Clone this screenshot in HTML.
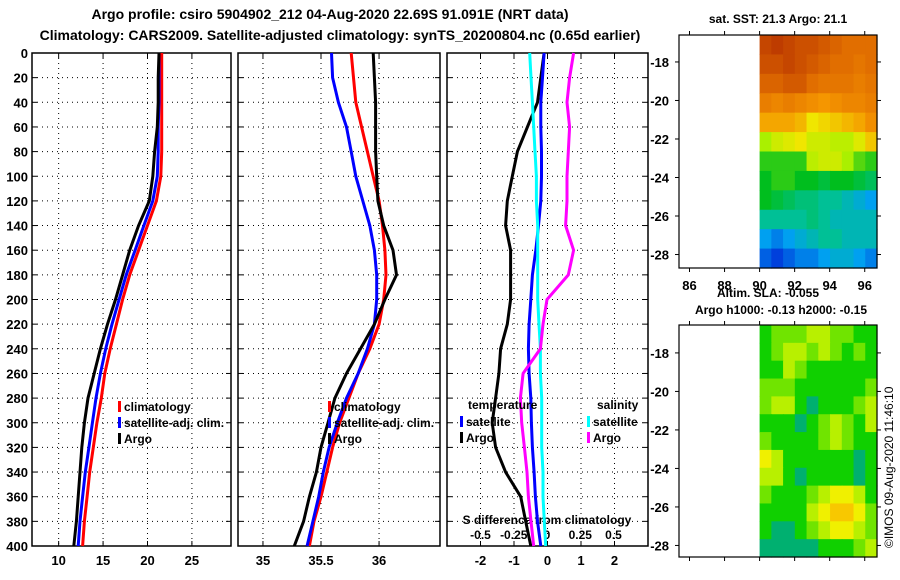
<!DOCTYPE html>
<html><head><meta charset="utf-8"><style>
body{margin:0;background:#fff;}
svg{display:block;font-family:"Liberation Sans",sans-serif;font-weight:bold;}
</style></head><body>
<svg id="c" width="900" height="580">
<text x="330" y="19" text-anchor="middle" font-size="14">Argo profile: csiro 5904902_212 04-Aug-2020 22.69S 91.091E (NRT data)</text>
<text x="340" y="40" text-anchor="middle" font-size="14">Climatology: CARS2009. Satellite-adjusted climatology: synTS_20200804.nc (0.65d earlier)</text>
<text x="778" y="23" text-anchor="middle" font-size="12">sat. SST: 21.3 Argo: 21.1</text>
<text x="768" y="297" text-anchor="middle" font-size="12">Altim. SLA: -0.055</text>
<text x="781" y="314" text-anchor="middle" font-size="12">Argo h1000: -0.13 h2000: -0.15</text>
<text transform="translate(893,548) rotate(-90)" font-size="12" font-weight="normal">©IMOS 09-Aug-2020 11:46:10</text>
</svg>
<script>
const depths=[0,20,40,60,80,100,120,140,160,180,200,220,240,260,280,300,320,340,360,380,400];
const tClim=[21.6,21.6,21.6,21.6,21.6,21.5,21.0,20.0,19.0,18.0,17.2,16.5,15.8,15.2,14.8,14.3,13.9,13.5,13.2,12.9,12.7];
const tSat=[21.3,21.3,21.3,21.2,21.2,21.1,20.6,19.6,18.6,17.6,16.8,16.0,15.3,14.7,14.2,13.8,13.4,13.0,12.7,12.4,12.2];
const tArgo=[21.3,21.2,21.2,21.1,20.8,20.6,20.2,19.0,18.0,17.2,16.4,15.5,14.7,14.0,13.3,12.9,12.6,12.4,12.2,12.0,11.7];
const sClim=[35.76,35.78,35.8,35.85,35.9,35.95,36.0,36.03,36.05,36.06,36.04,36.0,35.92,35.82,35.74,35.66,35.6,35.55,35.5,35.44,35.4];
const sSat=[35.59,35.6,35.65,35.72,35.76,35.8,35.86,35.92,35.96,35.98,35.98,35.96,35.9,35.82,35.72,35.64,35.57,35.52,35.48,35.43,35.38];
const sArgo=[35.95,35.96,35.97,35.97,35.97,35.98,35.99,36.04,36.12,36.15,36.05,35.96,35.84,35.72,35.62,35.56,35.5,35.46,35.4,35.35,35.27];
const dTArgo=[-0.1,-0.2,-0.3,-0.6,-0.9,-1.05,-1.2,-1.25,-1.1,-1.1,-1.1,-1.2,-1.4,-1.45,-1.55,-1.65,-1.55,-1.25,-0.8,-0.65,-0.5];
const dTSat=[-0.1,-0.15,-0.2,-0.2,-0.18,-0.18,-0.2,-0.27,-0.35,-0.45,-0.5,-0.55,-0.57,-0.55,-0.5,-0.48,-0.45,-0.4,-0.36,-0.3,-0.2];
const dSSat=[-0.13,-0.12,-0.11,-0.1,-0.09,-0.08,-0.08,-0.07,-0.07,-0.07,-0.07,-0.06,-0.05,-0.05,-0.04,-0.04,-0.04,-0.03,-0.03,-0.02,-0.01];
const dSArgo=[0.2,0.17,0.15,0.17,0.16,0.15,0.15,0.14,0.2,0.16,0.0,-0.03,-0.05,-0.18,-0.2,-0.19,-0.17,-0.15,-0.14,-0.12,-0.1];
const tTicks=[10,15,20,25];
const sTicks=[35,35.5,36];
const dTTicks=[-2,-1,0,1,2];
const dSTicks=[-0.5,-0.25,0,0.25,0.5];
const dSTickLabels=['-0.5','-0.25','0','0.25','0.5'];
const depthTicks=[0,20,40,60,80,100,120,140,160,180,200,220,240,260,280,300,320,340,360,380,400];
const lonTicks=[86,88,90,92,94,96];
const latTicks=[-18,-20,-22,-24,-26,-28];
const sst=[
[22.4,22.5,22.4,22.3,22.3,22.2,22.1,22.0,22.0,22.0],
[22.3,22.3,22.4,22.3,22.2,22.1,22.0,22.0,21.9,22.0],
[22.1,22.1,22.2,22.2,22.0,21.9,21.9,21.9,21.8,21.9],
[21.8,21.7,21.8,21.7,21.6,21.5,21.6,21.7,21.7,21.8],
[21.4,21.4,21.4,21.3,21.0,21.1,21.2,21.3,21.4,21.6],
[20.6,20.8,20.9,21.0,20.8,20.8,20.7,20.7,20.9,21.2],
[20.3,20.3,20.3,20.3,20.7,20.8,20.8,20.6,20.4,20.3],
[20.2,20.3,20.3,20.2,20.2,20.1,20.2,20.2,20.1,20.0],
[20.2,20.1,20.0,19.9,19.9,19.8,19.8,19.7,19.6,19.5],
[19.8,19.8,19.8,19.8,19.9,19.8,19.7,19.7,19.7,19.7],
[19.5,19.4,19.5,19.6,19.7,19.8,19.8,19.7,19.7,19.7],
[19.3,19.2,19.3,19.4,19.4,19.5,19.6,19.6,19.5,19.4]];
const sla=[
[1,2,2,2,3,3,2,2,1,1],[1,2,3,3,2,3,2,1,2,1],[1,1,3,2,1,1,1,1,1,1],[2,2,2,1,1,1,1,1,1,2],
[2,3,3,1,0,1,1,1,2,3],[1,1,1,0,1,2,3,2,1,3],[2,1,1,1,1,2,3,2,1,1],[4,3,1,1,1,1,1,1,0,1],
[3,3,1,0,1,1,1,1,0,1],[2,1,1,1,2,3,4,4,3,1],[1,1,1,1,3,4,5,5,4,2],[1,0,0,1,2,3,4,4,3,2],[0,0,0,0,0,1,1,1,2,3]];

const NS='http://www.w3.org/2000/svg';
const svg=document.getElementById('c');
function mk(tag,attrs,parent){const e=document.createElementNS(NS,tag);for(const k in attrs)e.setAttribute(k,attrs[k]);(parent||svg).appendChild(e);return e;}
function txt(x,y,s,size,anchor){const e=mk('text',{x:x,y:y,'font-size':size||13,'text-anchor':anchor||'middle'});e.textContent=s;return e;}
const Y0=53,Y1=546;
const yD=d=>Y0+(d/400)*(Y1-Y0);

function panel(name,x0,x1,vmin,vmax,xt,xtl,gridTicks,showDepthLabels){
  const xs=v=>x0+(v-vmin)/(vmax-vmin)*(x1-x0);
  const g=mk('g',{});
  
  
  depthTicks.forEach(d=>{
    if(d>0&&d<400){const l=mk('line',{x1:x0,x2:x1,y1:yD(d),y2:yD(d),stroke:'#000','stroke-dasharray':'1,4'},g);
    
    }
    mk('line',{x1:x0,x2:x0+5,y1:yD(d),y2:yD(d),stroke:'#000'},g);
    mk('line',{x1:x1-5,x2:x1,y1:yD(d),y2:yD(d),stroke:'#000'},g);
    if(showDepthLabels){const t=txt(x0-4,yD(d)+5,String(d),13,'end');g.appendChild(t);
    
    }
  });
  gridTicks.forEach(v=>{
    const l=mk('line',{x1:xs(v),x2:xs(v),y1:Y0,y2:Y1,stroke:'#000','stroke-dasharray':'1,4'},g);
    
    
  });
  xt.forEach((v,i)=>{
    mk('line',{x1:xs(v),x2:xs(v),y1:Y1-5,y2:Y1,stroke:'#000'},g);
    mk('line',{x1:xs(v),x2:xs(v),y1:Y0,y2:Y0+5,stroke:'#000'},g);
    const t=txt(xs(v),Y1+19,xtl?xtl[i]:String(v),13);g.appendChild(t);
    
    
  });
  const r=mk('rect',{x:x0,y:Y0,width:x1-x0,height:Y1-Y0,fill:'none',stroke:'#000','stroke-width':1.5},g);
  
  
  return {xs,g};
}
function series(p,vals,color,name){
  const pts=vals.map((v,i)=>p.xs(v).toFixed(1)+','+yD(depths[i]).toFixed(1)).join(' ');
  const l=mk('polyline',{points:pts,fill:'none',stroke:color,'stroke-width':3},p.g);
  
  
}
function legend(g,x,y,items){
  items.forEach((it,i)=>{
    const yy=y+i*16;
    mk('rect',{x:x,y:yy-10,width:3,height:11,fill:it[1]},g);
    const t=txt(x+6,yy,it[0],12,'start');g.appendChild(t);
    
    
  });
}
// Temperature panel
const p1=panel('temperature-panel',32,231,7,29.4,tTicks,null,tTicks,true);
series(p1,tClim,'#f00','temp-climatology-line');
series(p1,tSat,'#00f','temp-satellite-line');
series(p1,tArgo,'#000','temp-argo-line');
legend(p1.g,118,411,[['climatology','#f00'],['satellite-adj. clim.','#00f'],['Argo','#000']]);
// Salinity panel
const p2=panel('salinity-panel',238,440,34.785,36.525,sTicks,null,sTicks,false);
series(p2,sClim,'#f00','sal-climatology-line');
series(p2,sSat,'#00f','sal-satellite-line');
series(p2,sArgo,'#000','sal-argo-line');
legend(p2.g,328,411,[['climatology','#f00'],['satellite-adj. clim.','#00f'],['Argo','#000']]);
// Difference panel
const p3=panel('difference-panel',447,648,-3,3,dTTicks,null,dTTicks,false);
const xsS=v=>547+v*133;
dSTicks.forEach((v,i)=>{const t=txt(xsS(v),539,dSTickLabels[i],12);p3.g.appendChild(t);

});
const st=txt(547,524,'S difference from climatology',12);p3.g.appendChild(st);


series(p3,dTArgo,'#000','temp-diff-argo-line');
series(p3,dTSat,'#00f','temp-diff-satellite-line');
const pS={xs:v=>547+v*133,g:p3.g};
series(pS,dSSat,'#0ff','sal-diff-satellite-line');
series(pS,dSArgo,'#f0f','sal-diff-argo-line');
const th=txt(468,409,'temperature',12,'start');p3.g.appendChild(th);


const sh=txt(597,409,'salinity',12,'start');p3.g.appendChild(sh);


legend(p3.g,460,426,[['satellite','#00f'],['Argo','#000']]);
legend(p3.g,587,426,[['satellite','#0ff'],['Argo','#f0f']]);

// Maps
const lonMin=85.4,lonMax=96.7,lonData=90;
function sstColor(t){
  const stops=[[19.2,[0,64,220]],[19.5,[0,160,240]],[19.8,[0,192,150]],[20.2,[0,190,30]],[20.6,[170,240,0]],[21.0,[240,230,0]],[21.5,[245,150,0]],[22.0,[225,110,0]],[22.5,[190,60,0]]];
  if(t<=stops[0][0])return 'rgb('+stops[0][1]+')';
  for(let i=1;i<stops.length;i++){if(t<=stops[i][0]){const a=stops[i-1],b=stops[i],f=(t-a[0])/(b[0]-a[0]);return 'rgb('+a[1].map((c,k)=>Math.round(c+(b[1][k]-c)*f)).join(',')+')';}}
  return 'rgb('+stops[stops.length-1][1]+')';
}
const slaCols=['#00b070','#10d000','#70e400','#b8f000','#f0f000','#f8c800'];
function map(name,x0,x1,y0,y1,latTop,latBot,grid,colorFn,showLon){
  const g=mk('g',{});
  
  
  const xs=lon=>x0+(lon-lonMin)/(lonMax-lonMin)*(x1-x0);
  const ys=lat=>y0+(latTop-lat)/(latTop-latBot)*(y1-y0);
  const rows=grid.length,cols=grid[0].length;
  const cx0=xs(lonData),cw=(x1-cx0)/cols,ch=(y1-y0)/rows;
  grid.forEach((row,r)=>row.forEach((v,c)=>{
    const cell=mk('rect',{x:cx0+c*cw,y:y0+r*ch,width:cw+0.6,height:ch+0.6,fill:colorFn(v)},g);
    
    
  }));
  mk('rect',{x:x0,y:y0,width:x1-x0,height:y1-y0,fill:'none',stroke:'#000','stroke-width':1.2},g);
  lonTicks.forEach(l=>{
    mk('line',{x1:xs(l),x2:xs(l),y1:y1,y2:y1+4,stroke:'#000'},g);
    mk('line',{x1:xs(l),x2:xs(l),y1:y0-4,y2:y0,stroke:'#000'},g);
    if(showLon){const t=txt(xs(l),y1+22,String(l),13);g.appendChild(t);
    
    }
  });
  latTicks.forEach(l=>{
    mk('line',{x1:x0-4,x2:x0,y1:ys(l),y2:ys(l),stroke:'#000'},g);
    mk('line',{x1:x1,x2:x1+4,y1:ys(l),y2:ys(l),stroke:'#000'},g);
    const t=txt(x0-10,ys(l)+5,String(l),13,'end');g.appendChild(t);
    
    
  });
}
// Latitude labels are drawn left of the map in the reference
map('sst-map',679,877,35,268,-16.6,-28.7,sst,sstColor,true);
map('sla-map',679,877,325,557,-16.55,-28.6,sla,v=>slaCols[v],false);
</script>
</body></html>
